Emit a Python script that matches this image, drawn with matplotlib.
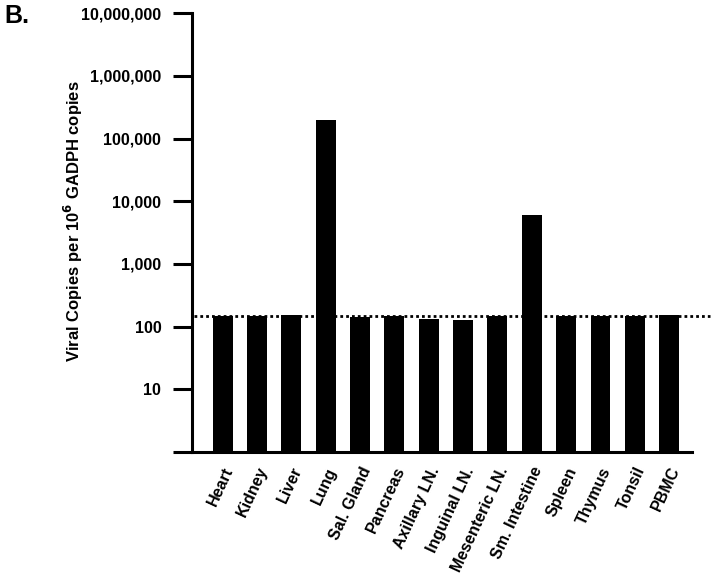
import matplotlib
matplotlib.use("Agg")
import matplotlib.pyplot as plt

plt.rcParams["font.family"] = ["Liberation Sans", "DejaVu Sans"]
plt.rcParams["font.weight"] = "bold"

tissues = ["Heart", "Kidney", "Liver", "Lung", "Sal. Gland", "Pancreas",
           "Axillary LN.", "Inguinal LN.", "Mesenteric LN.", "Sm. Intestine",
           "Spleen", "Thymus", "Tonsil", "PBMC"]
copies = [145, 148, 152, 195000, 143, 148, 133, 128, 148, 6000, 148, 148, 146, 150]
limit = 147  # detection limit (dotted line)

ytick_vals = [1, 10, 100, 1000, 10000, 100000, 1000000, 10000000]
ytick_labels = ["", "10", "100", "1,000", "10,000", "100,000", "1,000,000", "10,000,000"]

fig = plt.figure(figsize=(7.24, 5.73), dpi=100)
ax = fig.add_axes([0.265, 0.211, 0.691, 0.766])

x = list(range(len(tissues)))
ax.bar(x, copies, width=0.58, color="black", bottom=1)
ax.set_yscale("log")
ax.set_ylim(1, 1e7)
ax.set_xlim(-0.9, len(tissues) - 1 + 0.67)

# dotted detection-limit line, runs a bit past the axis end
ax.plot([-0.85, len(tissues) - 1 + 1.2], [limit, limit], color="black",
        linestyle=(0, (1, 1.1)), linewidth=2.0, clip_on=False)

ax.set_yticks(ytick_vals)
ax.set_yticklabels(ytick_labels, fontsize=11.5, fontweight="bold")
ax.minorticks_off()
ax.tick_params(axis="y", length=14, width=2.2, pad=8)
ax.set_xticks(x)
ax.set_xticklabels(tissues, rotation=65, ha="right", rotation_mode="anchor",
                   fontsize=11.5, fontweight="bold")
ax.tick_params(axis="x", length=0, pad=9)

for s in ["top", "right"]:
    ax.spines[s].set_visible(False)
for s in ["left", "bottom"]:
    ax.spines[s].set_linewidth(2.2)

fig.text(0.101, 0.614, "Viral Copies per 10$^{6}$ GADPH copies", rotation=90,
         ha="center", va="center", fontsize=12, fontweight="bold")
fig.text(0.006, 0.972, "B.", fontsize=18, fontweight="bold", va="center")

fig.savefig("out.png", dpi=100)
